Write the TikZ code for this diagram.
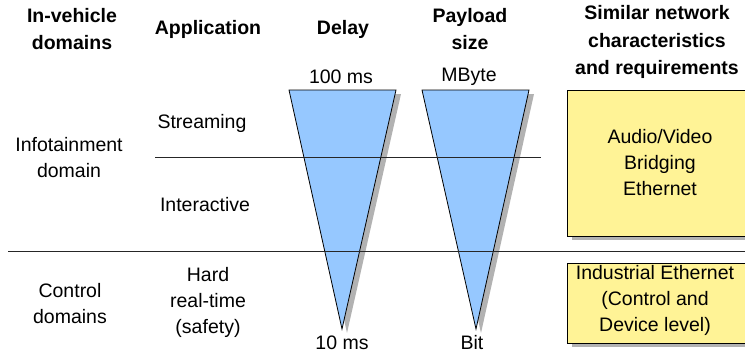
\documentclass[tikz,border=0pt]{standalone}
\usepackage{fontspec}
\setmainfont{Liberation Sans}
\begin{document}
\begin{tikzpicture}[x=1pt,y=-1pt,
  txt/.style={font=\fontsize{19.5}{26}\selectfont, align=center, inner sep=0pt},
  hdr/.style={txt, font=\fontsize{19.5}{27.5}\selectfont\bfseries},
  shade/.style={fill=black!30, draw=none},
  tri/.style={fill={rgb,255:red,150;green,200;blue,255}, draw=black, line width=0.8pt},
  ybox/.style={fill={rgb,255:red,255;green,243;blue,150}, draw=black, line width=0.8pt},
  sep/.style={draw=black!85, line width=0.8pt}]
\useasboundingbox (0,0) rectangle (745,354);
\clip (0,0) rectangle (745,354);
% triangles with shadows
\fill[shade] (294,94) -- (401,94) -- (347,333) -- cycle;
\path[tri] (289,90) -- (396,90) -- (342,329) -- cycle;
\fill[shade] (427,94) -- (534,94) -- (481,333) -- cycle;
\path[tri] (422,90) -- (529,90) -- (476,329) -- cycle;
% yellow boxes with shadows
\fill[shade] (572,94) rectangle (770,240);
\path[ybox] (567,90) rectangle (770,236);
\fill[shade] (572,267) rectangle (770,347);
\path[ybox] (567,263) rectangle (770,343);
% separator lines
\coordinate (l1a) at (155,157); \coordinate (l1b) at (541,157);
\coordinate (l2a) at (8,251); \coordinate (l2b) at (760,251);
\draw[sep] (l1a) -- (l1b);
\draw[sep] (l2a) -- (l2b);
% headers
\node[hdr] (h1) at (72,29) {In-vehicle\\domains};
\node[hdr] (h2) at (208,29) {Application};
\node[hdr] (h3) at (343,29) {Delay};
\node[hdr] (h4) at (470,29) {Payload\\size};
\node[hdr] (h5) at (657,42) {Similar network\\characteristics\\and requirements};
% labels
\node[txt] (t100) at (341,77) {100 ms};
\node[txt] (tmb) at (469,77) {MByte};
\node[txt] (t10) at (342,343) {10 ms};
\node[txt] (tbit) at (472,343) {Bit};
\node[txt] (stream) at (202,123) {Streaming};
\node[txt] (inter) at (205,205) {Interactive};
\node[txt] (info) at (69,158) {Infotainment\\domain};
\node[txt] (ctrl) at (70,304) {Control\\domains};
\node[txt] (hard) at (208,302) {Hard\\real-time\\(safety)};
\node[txt] (avb) at (660,163) {Audio/Video\\Bridging\\Ethernet};
\node[txt] (ind) at (655,300) {Industrial Ethernet\\(Control and\\Device level)};
\end{tikzpicture}
\end{document}
